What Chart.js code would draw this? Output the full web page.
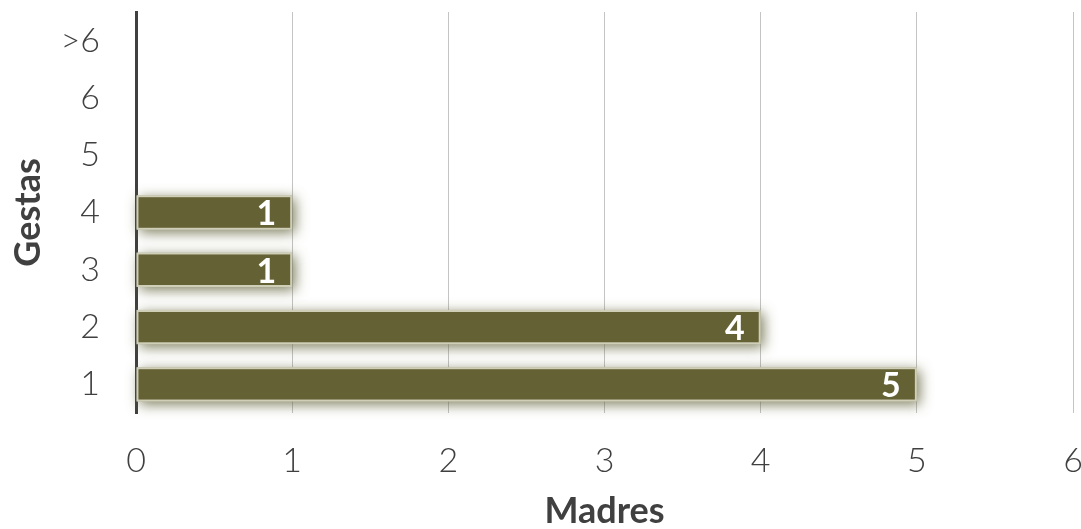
<!DOCTYPE html>
<html lang="es">
<head>
<meta charset="UTF-8">
<title>Gestas por madre</title>
<script src="https://cdn.jsdelivr.net/npm/chart.js"></script>
<style>
  html,body{margin:0;padding:0;background:#fff}
  #wrap{width:1081px;height:529px}
</style>
</head>
<body>
<div id="wrap"><canvas id="gestasChart"></canvas></div>
<script>
const gestas  = ['1','2','3','4','5','6','>6'];
const madres  = [5, 4, 1, 1, 0, 0, 0];
const xTicks  = [0, 1, 2, 3, 4, 5, 6];

const FONT = "'Lato', 'DejaVu Sans', sans-serif";

function noPad(s){ s.paddingTop = 0; s.paddingBottom = 0; s.paddingLeft = 0; s.paddingRight = 0; }

// halo difuso detras de las barras + etiquetas de valor
const glow = {
  id:'glow',
  beforeDatasetsDraw(chart){
    const c = chart.ctx;
    const meta = chart.getDatasetMeta(0);
    c.save();
    c.shadowColor = 'rgba(95,95,55,.8)';
    c.shadowBlur = 13;
    c.shadowOffsetX = 3;
    c.shadowOffsetY = 3;
    c.fillStyle = '#b9b9a4';
    meta.data.forEach((bar, i) => {
      if (!madres[i]) return;
      const h = bar.height;
      c.fillRect(bar.base, bar.y - h / 2, bar.x - bar.base, h);
    });
    c.restore();
  },
  afterDatasetsDraw(chart){
    const c = chart.ctx;
    const meta = chart.getDatasetMeta(0);
    c.save();
    c.fillStyle = '#fff';
    c.font = "bold 34px " + FONT;
    c.textAlign = 'right';
    c.textBaseline = 'middle';
    meta.data.forEach((bar, i) => {
      const v = madres[i];
      if (!v) return;
      c.fillText(String(v), bar.x - 16, bar.y + 2);
    });
    c.restore();
  }
};

new Chart(document.getElementById('gestasChart'), {
  type:'bar',
  data:{
    labels: gestas,
    datasets:[{
      data: madres,
      backgroundColor:'#646134',
      borderColor:'#cfcfb8',
      borderWidth:2,
      borderSkipped:false,
      categoryPercentage:1,
      barPercentage:0.6
    }]
  },
  options:{
    indexAxis:'y',
    responsive:true,
    maintainAspectRatio:false,
    animation:false,
    layout:{padding:{top:12, right:8, bottom:0, left:0}},
    plugins:{legend:{display:false}, tooltip:{enabled:false}},
    scales:{
      x:{
        min:0, max:6,
        afterBuildTicks(s){ s.ticks = xTicks.map(v => ({value:v})); },
        afterFit(s){ s.height = 116; noPad(s); },
        grid:{color:'#c4c4c4', lineWidth:1, drawTicks:false},
        border:{display:false},
        ticks:{color:'#404040', padding:28, maxRotation:0, font:{family:FONT, size:34, weight:'300'}},
        title:{display:true, text:'Madres', color:'#404040', padding:{top:0, bottom:0},
               font:{family:FONT, size:36, weight:'bold', lineHeight:1}}
      },
      y:{
        reverse:true,
        afterFit(s){ s.width = 136; noPad(s); },
        grid:{display:false, drawTicks:false},
        border:{display:true, color:'#404040', width:3},
        ticks:{color:'#404040', padding:36, font:{family:FONT, size:34, weight:'300'}},
        title:{display:true, text:'Gestas', color:'#404040', padding:{top:10, bottom:0},
               font:{family:FONT, size:36, weight:'bold', lineHeight:1}}
      }
    }
  },
  plugins:[glow]
});
</script>
</body>
</html>
